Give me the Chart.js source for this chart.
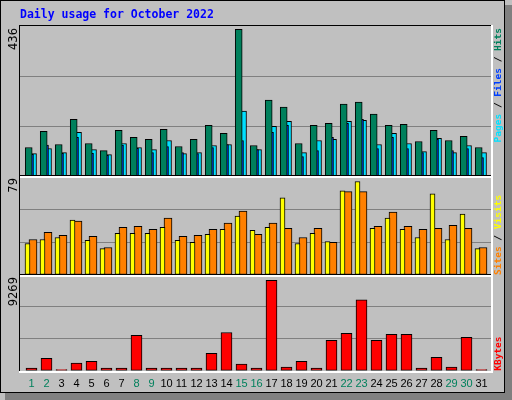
<!DOCTYPE html>
<html><head><meta charset="utf-8">
<script src="https://cdn.jsdelivr.net/npm/chart.js@4"></script>
<style>html,body{margin:0;padding:0;background:#fff}#c{display:block}</style>
</head><body>
<div style="width:512px;height:400px"><canvas id="c" width="512" height="400"></canvas></div>
<script>
const days = [1,2,3,4,5,6,7,8,9,10,11,12,13,14,15,16,17,18,19,20,21,22,23,24,25,26,27,28,29,30,31];
const weekend = [1,2,8,9,15,16,22,23,29,30];
const hits  = [85,133,94,169,97,76,136,115,109,139,88,109,151,127,436,91,226,205,97,151,157,214,220,184,151,154,103,136,106,118,85];
const files = [65,92,68,115,68,62,92,83,70,88,70,67,85,94,106,79,130,151,58,76,115,157,169,82,115,82,70,109,76,82,55];
const pages = [67,82,70,130,79,64,97,85,79,106,67,70,91,94,193,79,148,163,70,106,109,163,166,94,127,97,73,112,70,91,70];
const visits = [26.6,30,31.7,46.4,29.2,22.3,35.2,35.2,35.2,40.3,29.2,27.5,34.3,38.6,49.8,37.8,40.3,65.2,26.6,35.2,28.3,71.2,79,39.5,48,38.6,31.7,68.6,30,51.5,22.3];
const sites  = [30,36,33.5,45.5,32.6,23.2,40.3,41.2,38.6,48,32.6,33.5,38.6,43.8,54,34.3,43.8,39.5,31.7,39.5,27.5,70.4,70.4,41.2,53.2,41.2,38.6,39.5,42,39.5,23.2];
const kbytes = [270,1285,135,778,981,270,270,3620,270,270,270,270,1793,3924,677,270,9269,372,981,270,3112,3823,7273,3112,3721,3721,270,1387,372,3417,135];
const maxLabels = ['436','79','9269'];

const PX = 1/15; // one pixel in day units
function pts(vals, off){ return days.map((d,i)=>({x:d+off*PX, y:vals[i]})); }
function ds(label, vals, off, w, color, axis){
  return {label, data:pts(vals,off), backgroundColor:color, borderColor:'#000', borderWidth:1,
    borderSkipped:false, grouped:false, barThickness:w, yAxisID:axis};
}
const thirds = s => { s.ticks = [0, s.max/3, 2*s.max/3, s.max].map(v=>({value:v})); };

const panels = {
  id:'panels',
  beforeDraw(chart){
    const c = chart.ctx;
    c.save();
    c.fillStyle='#c0c0c0'; c.fillRect(0,0,512,400);
    c.fillStyle='#808080'; c.fillRect(505,5,7,395); c.fillRect(5,393,507,7);
    c.strokeStyle='#000'; c.lineWidth=1; c.strokeRect(0.5,0.5,504,392);
    c.restore();
  },
  afterDraw(chart){
    const c = chart.ctx, a = chart.chartArea;
    c.save();
    ['y1','y2','y3'].forEach((id,k)=>{
      const s = chart.scales[id];
      const t = Math.round(s.top), b = Math.round(s.bottom);
      c.fillStyle='#000'; c.fillRect(a.left-1,t-1,a.right-a.left+2,1); c.fillRect(a.left-1,t-1,1,b-t+1);
      c.fillStyle='#fff'; c.fillRect(a.left-1,b,a.right-a.left+2,2); c.fillRect(a.right,t-1,2,b-t+3);
      c.save();
      c.translate(14, t+2); c.rotate(-Math.PI/2);
      c.fillStyle='#000'; c.font='11.5px "DejaVu Sans"'; c.textAlign='right'; c.textBaseline='middle';
      c.fillText(maxLabels[k],0,0);
      c.restore();
    });
    c.font='bold 11.5px "DejaVu Sans Mono"'; c.fillStyle='#0000ff'; c.textBaseline='middle'; c.textAlign='left';
    c.fillText('Daily usage for October 2022',20,15);
    function side(parts, x, y, anchorTop){
      c.save(); c.translate(x,y); c.rotate(-Math.PI/2);
      c.font='bold 9.5px "DejaVu Sans Mono"'; c.textBaseline='middle';
      const total = parts.reduce((s,p)=>s+c.measureText(p[0]).width,0);
      let px = anchorTop ? -total : 0;
      parts.forEach(p=>{ c.fillStyle=p[1]; c.textAlign='left'; c.fillText(p[0],px,0); px+=c.measureText(p[0]).width; });
      c.restore();
    }
    const s1=chart.scales.y1, s2=chart.scales.y2, s3=chart.scales.y3;
    side([['Pages','#00e0ff'],[' / ','#000'],['Files','#0040ff'],[' / ','#000'],['Hits','#00805c']],499,s1.top+2,true);
    side([['Sites','#ff8000'],[' / ','#000'],['Visits','#ffff00']],499,s2.bottom,false);
    side([['KBytes','#ff0000']],499,s3.bottom,false);
    c.restore();
  }
};

const yBase = (id,max,weight)=>({
  type:'linear', position:'left', stack:'v', stackWeight:weight, min:0, max:max, offset:false,
  afterBuildTicks:thirds,
  ticks:{display:false},
  grid:{color:ctx=> (ctx.index===1||ctx.index===2)?'#808080':'rgba(0,0,0,0)', lineWidth:1, drawTicks:false},
  border:{display:false}
});

new Chart(document.getElementById('c'), {
  type:'bar',
  data:{datasets:[
    ds('Hits',hits,-2.8,7,'#00805c','y1'),
    ds('Files',files,-1,6,'#0040ff','y1'),
    ds('Pages',pages,1.5,7,'#00e0ff','y1'),
    ds('Visits',visits,-4,5,'#ffff00','y2'),
    ds('Sites',sites,1.5,8,'#ff8000','y2'),
    ds('KBytes',kbytes,0,11,'#ff0000','y3')
  ]},
  options:{
    responsive:false, animation:false, events:[],
    layout:{padding:{left:20,right:21,top:26,bottom:2}},
    plugins:{legend:{display:false},tooltip:{enabled:false}},
    scales:{
      x:{type:'linear', min:1-11.5*PX, max:1-11.5*PX+471*PX, offset:false,
        afterBuildTicks:s=>{ s.ticks = days.map(v=>({value:v})); },
        grid:{display:false, drawTicks:false}, border:{display:false},
        ticks:{autoSkip:false, maxRotation:0, padding:7, font:{family:'Liberation Sans', size:11},
          color:ctx=> weekend.includes(ctx.tick.value)?'#00805c':'#000',
          callback:v=>String(v)}},
      y3:yBase('y3',9807,97),
      y2:yBase('y2',83.5,100),
      y1:yBase('y1',445.7,152)
    }
  },
  plugins:[panels]
});
</script>
</body></html>
